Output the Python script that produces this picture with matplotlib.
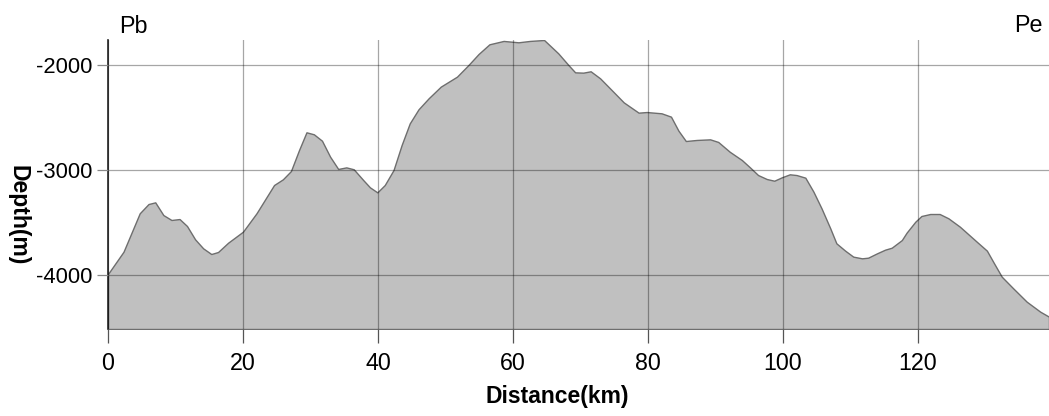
import matplotlib.pyplot as plt
from matplotlib import font_manager

# Profile along the section line Pb -> Pe
distance_km = [0.0, 2.3, 4.7, 6.0, 7.0, 8.2, 9.4, 10.6, 11.7, 12.9, 14.1, 15.3, 16.3,
               17.8, 20.0, 22.0, 24.6, 25.9, 27.1, 28.3, 29.4, 30.5, 31.7, 32.9, 34.1,
               35.3, 36.4, 37.8, 38.8, 39.9, 41.0, 42.3, 43.5, 44.7, 46.0, 47.5, 49.3,
               51.7, 53.4, 54.9, 56.5, 58.6, 60.8, 62.5, 64.6, 66.7, 68.2, 69.2, 70.4,
               71.5, 72.9, 74.6, 76.4, 78.6, 79.8, 82.0, 83.4, 84.5, 85.6, 87.2, 89.2,
               90.4, 92.1, 93.9, 95.1, 96.3, 97.6, 98.7, 99.8, 101.0, 102.0, 103.3,
               104.5, 105.7, 107.0, 107.9, 109.2, 110.4, 111.7, 112.6, 113.9, 115.1,
               116.1, 117.6, 118.3, 119.6, 120.5, 121.8, 123.2, 124.5, 126.2, 128.7,
               130.2, 131.2, 132.4, 134.1, 136.1, 138.1, 139.4]
depth_m = [-3990, -3778, -3412, -3324, -3308, -3429, -3476, -3467, -3533, -3660, -3746,
           -3800, -3781, -3692, -3587, -3412, -3143, -3089, -3010, -2810, -2641, -2660,
           -2721, -2873, -2990, -2975, -2993, -3095, -3165, -3213, -3143, -3000, -2762,
           -2556, -2422, -2317, -2206, -2111, -2000, -1895, -1803, -1771, -1784, -1771,
           -1762, -1889, -2000, -2070, -2073, -2060, -2127, -2238, -2356, -2454, -2448,
           -2460, -2492, -2625, -2724, -2714, -2708, -2733, -2826, -2905, -2975, -3048,
           -3086, -3102, -3070, -3041, -3048, -3073, -3206, -3365, -3556, -3698, -3768,
           -3825, -3841, -3835, -3794, -3759, -3740, -3667, -3597, -3492, -3438, -3419,
           -3419, -3460, -3540, -3683, -3768, -3882, -4016, -4127, -4254, -4349, -4397]

x_ticks = [0, 20, 40, 60, 80, 100, 120]
y_ticks = [-4000, -3000, -2000]
y_bottom = -4514
y_top = -1762

plt.rcParams['axes.unicode_minus'] = False

# prefer a narrow face for the tick numbers when one is installed
names = {f.name for f in font_manager.fontManager.ttflist}
narrow = 'Liberation Sans Narrow' if 'Liberation Sans Narrow' in names else 'Liberation Sans'
shrink = 1.0 if narrow == 'Liberation Sans Narrow' else 0.88

fig = plt.figure(figsize=(10.49, 4.16), dpi=100)
ax = fig.add_axes([108 / 1049, 87 / 416, 941 / 1049, 289 / 416])

ax.fill_between(distance_km, depth_m, y_bottom, facecolor='#c0c0c0',
                edgecolor='#6e6e6e', linewidth=1.0, zorder=1)

ax.set_xlim(0, 139.4)
ax.set_ylim(y_bottom, y_top)
ax.set_xticks(x_ticks)
ax.set_yticks(y_ticks)

ax.grid(True, color='black', alpha=0.35, linewidth=0.9, zorder=2)
ax.set_axisbelow(False)

for s in ['top', 'right', 'bottom']:
    ax.spines[s].set_visible(False)
ax.spines['left'].set_color('#222222')
ax.spines['left'].set_linewidth(1.2)

ax.tick_params(axis='x', length=10, width=0.9, color='#555555', pad=6.5)
ax.tick_params(axis='y', length=8, width=0.9, color='#888888', pad=3.5)
for lbl in ax.get_xticklabels():
    lbl.set_fontfamily(narrow)
    lbl.set_fontsize(19 * shrink)
for lbl in ax.get_yticklabels():
    lbl.set_fontfamily(narrow)
    lbl.set_fontsize(18 * shrink)

# end point labels of the section
fig.text(119 / 1049, 1 - 33 / 416, 'Pb', family=narrow, fontsize=19 * shrink,
         ha='left', va='baseline')
fig.text(1043 / 1049, 1 - 32 / 416, 'Pe', family=narrow, fontsize=19 * shrink,
         ha='right', va='baseline')

fig.text(557 / 1049, 1 - 397 / 416, 'Distance(km)', family='Liberation Sans',
         fontweight='bold', fontsize=16.5, ha='center', va='center')
fig.text(18 / 1049, 1 - 215 / 416, 'Depth(m)', family='Liberation Sans',
         fontweight='bold', fontsize=16.5, rotation=-90, ha='center', va='center')

fig.savefig('out.png', dpi=100)
